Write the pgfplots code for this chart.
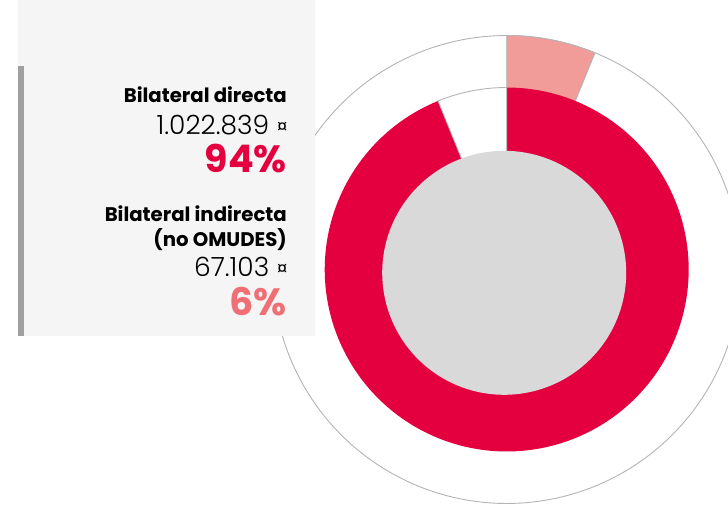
\documentclass[border=0pt]{standalone}
\usepackage{pgfplots}
\pgfplotsset{compat=1.18}
\usepackage{fontspec}
\setmainfont{Poppins}
\newfontfamily\lightfont{Poppins Light}
\definecolor{cred}{HTML}{E4003F}
\definecolor{cpink}{HTML}{F19C99}
\definecolor{csix}{HTML}{EF6F75}
\definecolor{cdisk}{HTML}{D9D9D9}
\definecolor{cpanel}{HTML}{F5F5F5}
\definecolor{cbar}{HTML}{A0A0A0}
\definecolor{cline}{HTML}{B4B4B4}
\begin{document}
\begin{tikzpicture}[x=1pt,y=1pt]
% values in thousands of euros
\pgfmathsetmacro{\va}{1022.839}
\pgfmathsetmacro{\vb}{67.103}
\pgfmathsetmacro{\share}{\vb/(\va+\vb)}
\pgfmathsetmacro{\angb}{360*\share}
\pgfmathsetmacro{\gapend}{90+\angb}
\pgfmathsetmacro{\pinkstart}{90-\angb}
\pgfmathsetmacro{\redstart}{90+\angb-360}
\begin{axis}[at={(0,0)}, anchor=south west, width=728pt, height=504pt,
  scale only axis, hide axis, clip=true,
  xmin=-506.7, xmax=221.3, ymin=-234.5, ymax=269.5]
% outer ring (white part with outline)
\addplot[fill=white, draw=cline, line width=0.9pt, domain=0:360, samples=200, variable=\t]
  ({234*cos(t)},{234*sin(t)});
% outer ring: bilateral indirecta share
\addplot[fill=cpink, draw=cline, line width=0.9pt, domain=\pinkstart:90, samples=40, variable=\t]
  ({234*cos(t)},{234*sin(t)}) -- (axis cs:0,0) -- cycle;
% inner ring: bilateral directa share
\addplot[fill=cred, draw=none, domain=\redstart:90, samples=200, variable=\t]
  ({182*cos(t)},{182*sin(t)}) -- (axis cs:0,0) -- cycle;
% inner ring: gap
\addplot[fill=white, draw=cline, line width=0.9pt, domain=90:\gapend, samples=40, variable=\t]
  ({182*cos(t)},{182*sin(t)}) -- (axis cs:0,0) -- cycle;
% center disk
\addplot[fill=cdisk, draw=none, domain=0:360, samples=200, variable=\t]
  ({-2.5+122*cos(t)},{-3.3+122*sin(t)});
\end{axis}
% left panel
\fill[cpanel] (18,168) rectangle (315,504);
\fill[cbar] (18,168) rectangle (24,438);
\node[anchor=base east, inner sep=0pt, font=\bfseries\fontsize{19.7}{22}\selectfont] at (287,401) {Bilateral directa};
\node[anchor=base east, inner sep=0pt, font=\lightfont\fontsize{26.5}{28}\selectfont] at (288,369) {1.022.839 {\mdseries\normalfont\fontsize{21}{21}\selectfont ¤}};
\node[anchor=base east, inner sep=0pt, text=cred, font=\bfseries\fontsize{38}{40}\selectfont] at (287,331) {94\%};
\node[anchor=base east, inner sep=0pt, font=\bfseries\fontsize{19.7}{22}\selectfont] at (287,282) {Bilateral indirecta};
\node[anchor=base east, inner sep=0pt, font=\bfseries\fontsize{19.7}{22}\selectfont] at (287,257) {(no OMUDES)};
\node[anchor=base east, inner sep=0pt, font=\lightfont\fontsize{26.5}{28}\selectfont] at (288,227) {67.103 {\mdseries\normalfont\fontsize{21}{21}\selectfont ¤}};
\node[anchor=base east, inner sep=0pt, text=csix, font=\bfseries\fontsize{38}{40}\selectfont] at (287,189) {6\%};
\pgfresetboundingbox
\path (0,0) rectangle (728,504);
\end{tikzpicture}
\end{document}
